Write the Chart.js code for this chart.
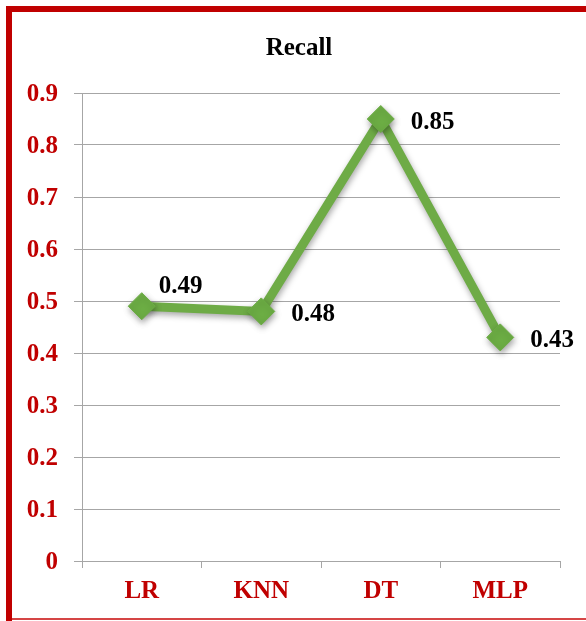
<!DOCTYPE html>
<html>
<head>
<meta charset="utf-8">
<title>Recall</title>
<script src="https://cdn.jsdelivr.net/npm/chart.js@4/dist/chart.umd.min.js"></script>
<style>
  html, body { margin: 0; padding: 0; background: #ffffff; }
  #wrap { position: relative; width: 586px; height: 621px; }
</style>
</head>
<body>
<div id="wrap"><canvas id="chart" width="586" height="621"></canvas></div>
<script>
// Recall per classifier
const categories = ['LR', 'KNN', 'DT', 'MLP'];
const recall = [0.49, 0.48, 0.85, 0.43];
// where each value label sits relative to its marker
const labelPlacement = ['above', 'right', 'right', 'right'];

const RED = '#C00000';
const GREEN = '#6EAB46';
const GRID = '#A6A6A6';
const FONT = "'Liberation Serif', 'Times New Roman', serif";

// white background plus the red frame around the chart
const framePlugin = {
  id: 'frame',
  beforeDraw(chart) {
    const c = chart.ctx;
    c.save();
    c.fillStyle = '#ffffff';
    c.fillRect(0, 0, chart.width, chart.height);
    c.restore();
  },
  afterDraw(chart) {
    const c = chart.ctx;
    c.save();
    c.fillStyle = RED;
    c.fillRect(6, 6, 6, chart.height - 6);
    c.fillRect(6, 6, chart.width - 6, 6);
    c.fillStyle = '#D54545';
    c.fillRect(12, 618, chart.width - 12, 2);
    c.restore();
  }
};

// soft drop shadow under the line and markers
const shadowPlugin = {
  id: 'markerShadow',
  beforeDatasetDraw(chart) {
    const c = chart.ctx;
    c.save();
    c.shadowColor = 'rgba(0,0,0,0.35)';
    c.shadowBlur = 6;
    c.shadowOffsetX = 1;
    c.shadowOffsetY = 3;
  },
  afterDatasetDraw(chart) {
    chart.ctx.restore();
  }
};

// value labels next to each marker
const valueLabels = {
  id: 'valueLabels',
  afterDatasetsDraw(chart) {
    const c = chart.ctx;
    const meta = chart.getDatasetMeta(0);
    c.save();
    c.font = 'bold 25px ' + FONT;
    c.fillStyle = '#000000';
    c.textBaseline = 'alphabetic';
    c.textAlign = 'left';
    meta.data.forEach((pt, i) => {
      const txt = recall[i].toFixed(2);
      if (labelPlacement[i] === 'above') {
        c.fillText(txt, pt.x + 17, pt.y - 13);
      } else {
        c.fillText(txt, pt.x + 30, pt.y + 9.5);
      }
    });
    c.restore();
  }
};

new Chart(document.getElementById('chart'), {
  type: 'line',
  data: {
    labels: categories,
    datasets: [{
      label: 'Recall',
      data: recall,
      borderColor: GREEN,
      borderWidth: 9,
      tension: 0,
      fill: false,
      pointStyle: 'rectRot',
      pointRadius: 13.5,
      pointHoverRadius: 13.5,
      pointBackgroundColor: '#6CAD44',
      pointBorderColor: '#6CAD44',
      pointBorderWidth: 1,
      clip: false
    }]
  },
  options: {
    responsive: false,
    animation: false,
    events: [],
    layout: { padding: { left: 12, right: 0, top: 0, bottom: 0 } },
    plugins: {
      legend: { display: false },
      tooltip: { enabled: false },
      title: {
        display: true,
        text: 'Recall',
        color: '#000000',
        font: { family: FONT, size: 25, weight: 'bold' },
        padding: { top: 34, bottom: 29 }
      }
    },
    scales: {
      x: {
        offset: true,
        grid: {
          offset: true,
          drawOnChartArea: false,
          drawTicks: true,
          tickLength: 7,
          color: GRID,
          lineWidth: 1
        },
        border: { display: true, color: GRID, width: 1 },
        ticks: {
          color: RED,
          padding: 9,
          maxRotation: 0,
          font: { family: FONT, size: 25, weight: 'bold' }
        },
        afterFit(scale) { scale.height = 60; }
      },
      y: {
        min: 0,
        max: 0.9,
        grid: {
          color: GRID,
          lineWidth: 1,
          drawTicks: true,
          tickLength: 8
        },
        border: { display: true, color: GRID, width: 1 },
        ticks: {
          stepSize: 0.1,
          color: RED,
          padding: 16,
          labelOffset: 2,
          font: { family: FONT, size: 25, weight: 'bold' },
          callback: (v) => String(Number(v.toFixed(1)))
        },
        afterFit(scale) { scale.width = 70; }
      },
      // empty right-hand margin of the plot
      yRight: {
        position: 'right',
        display: true,
        min: 0,
        max: 0.9,
        grid: { display: false },
        border: { display: false },
        ticks: { display: false },
        afterFit(scale) { scale.width = 26; }
      }
    }
  },
  plugins: [framePlugin, shadowPlugin, valueLabels]
});
</script>
</body>
</html>
